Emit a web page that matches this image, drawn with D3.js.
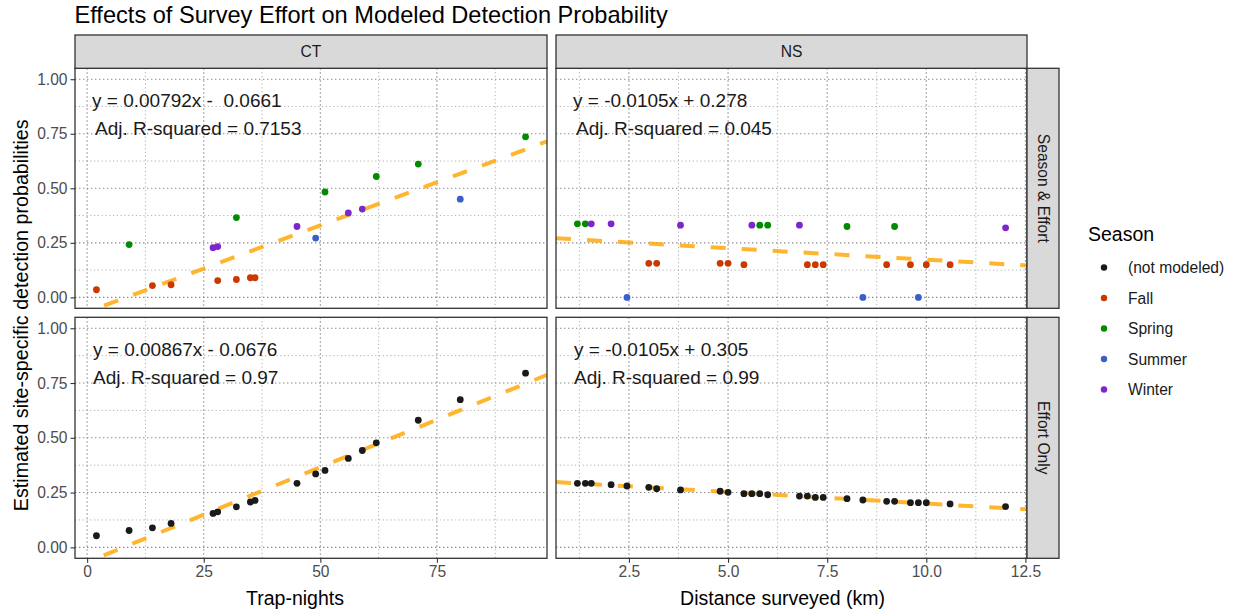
<!DOCTYPE html>
<html>
<head>
<meta charset="utf-8">
<script src="https://cdn.jsdelivr.net/npm/d3@7"></script>
<style>
  html, body { margin: 0; padding: 0; background: #fff; }
  svg { display: block; font-family: "Liberation Sans", Arial, sans-serif; }
</style>
</head>
<body>
<svg id="chart" width="1238" height="615"></svg>
<script>
// ---------------- DATA ----------------
const seasons = ["(not modeled)", "Fall", "Spring", "Summer", "Winter"];
const seasonColors = ["#1A1A1A", "#CD3700", "#008B00", "#3A5FCD", "#7D26CD"];

// CT, Season & Effort
const ctSeasonX = [2, 9, 14, 18, 27, 28, 28, 32, 32, 35, 36, 45, 49, 51, 56, 59, 62, 71, 80, 94];
const ctSeasonY = [0.035, 0.242, 0.054, 0.058, 0.228, 0.233, 0.077, 0.366, 0.082, 0.090, 0.090, 0.325, 0.272, 0.483, 0.387, 0.405, 0.554, 0.611, 0.450, 0.736];
const ctSeasonS = ["Fall", "Spring", "Fall", "Fall", "Winter", "Winter", "Fall", "Spring", "Fall", "Fall", "Fall", "Winter", "Summer", "Spring", "Winter", "Winter", "Spring", "Spring", "Summer", "Spring"];

// NS, Season & Effort
const nsSeasonX = [1.2, 1.4, 1.55, 2.05, 2.45, 3.0, 3.2, 3.8, 4.8, 5.0, 5.4, 5.6, 5.8, 6.0, 6.8, 7.0, 7.2, 7.4, 8.0, 8.4, 9.0, 9.2, 9.6, 9.8, 10.0, 10.6, 12.0];
const nsSeasonY = [0.337, 0.337, 0.337, 0.337, 0.0, 0.156, 0.156, 0.331, 0.156, 0.156, 0.150, 0.331, 0.331, 0.331, 0.331, 0.150, 0.150, 0.150, 0.325, 0.0, 0.150, 0.325, 0.150, 0.0, 0.150, 0.150, 0.319];
const nsSeasonS = ["Spring", "Spring", "Winter", "Winter", "Summer", "Fall", "Fall", "Winter", "Fall", "Fall", "Fall", "Winter", "Spring", "Spring", "Winter", "Fall", "Fall", "Fall", "Spring", "Summer", "Fall", "Spring", "Fall", "Summer", "Fall", "Fall", "Winter"];

// CT, Effort Only
const ctEffortX = [2, 9, 14, 18, 27, 28, 32, 35, 36, 45, 49, 51, 56, 59, 62, 71, 80, 94];
const ctEffortY = [0.053, 0.077, 0.089, 0.109, 0.155, 0.162, 0.185, 0.207, 0.214, 0.292, 0.335, 0.351, 0.406, 0.442, 0.477, 0.580, 0.674, 0.795];

// NS, Effort Only
const nsEffortX = [1.2, 1.4, 1.55, 2.05, 2.45, 3.0, 3.2, 3.8, 4.8, 5.0, 5.4, 5.6, 5.8, 6.0, 6.8, 7.0, 7.2, 7.4, 8.0, 8.4, 9.0, 9.2, 9.6, 9.8, 10.0, 10.6, 12.0];
const nsEffortY = [0.292, 0.292, 0.292, 0.286, 0.280, 0.274, 0.268, 0.262, 0.256, 0.251, 0.245, 0.245, 0.245, 0.240, 0.234, 0.234, 0.228, 0.228, 0.222, 0.216, 0.210, 0.210, 0.204, 0.204, 0.204, 0.198, 0.186];

// Fitted lines (order: CT/Season, NS/Season, CT/Effort, NS/Effort)
const fitSlope = [0.00792, -0.0105, 0.00867, -0.0105];
const fitIntercept = [-0.0661, 0.278, -0.0676, 0.305];
const fitEquation = ["y = 0.00792x -  0.0661", "y = -0.0105x + 0.278", "y = 0.00867x - 0.0676", "y = -0.0105x + 0.305"];
const fitR2Label = ["Adj. R-squared = 0.7153", "Adj. R-squared = 0.045", "Adj. R-squared = 0.97", "Adj. R-squared = 0.99"];

// Axes
const ctTicks = [0, 25, 50, 75];
const ctMinor = [12.5, 37.5, 62.5, 87.5];
const nsTicks = [2.5, 5.0, 7.5, 10.0, 12.5];
const nsMinor = [1.25, 3.75, 6.25, 8.75, 11.25];
const yTicks = [0, 0.25, 0.5, 0.75, 1.0];
const yMinor = [0.125, 0.375, 0.625, 0.875];
const colStrips = ["CT", "NS"];
const rowStrips = ["Season & Effort", "Effort Only"];
const xTitles = ["Trap-nights", "Distance surveyed (km)"];
const yTitle = "Estimated site-specific detection probabilities";
const chartTitle = "Effects of Survey Effort on Modeled Detection Probability";

// ---------------- LAYOUT ----------------
const svg = d3.select("#chart");
const color = d3.scaleOrdinal().domain(seasons).range(seasonColors);

const cols = [
  { x0: 75, x1: 547, domain: [-2.6, 98.6], ticks: ctTicks, minor: ctMinor, fmt: d3.format("d"), titleX: 295 },
  { x0: 556, x1: 1027, domain: [0.66, 12.54], ticks: nsTicks, minor: nsMinor, fmt: d3.format(".1f"), titleX: 782.5 }
];
const rows = [
  { y0: 68.3, y1: 308.3 },
  { y0: 317.3, y1: 558.3 }
];
const stripTop = 35;
const rightStripW = 32;

const panelData = [
  { r: 0, c: 0, xs: ctSeasonX, ys: ctSeasonY, ss: ctSeasonS },
  { r: 0, c: 1, xs: nsSeasonX, ys: nsSeasonY, ss: nsSeasonS },
  { r: 1, c: 0, xs: ctEffortX, ys: ctEffortY, ss: null },
  { r: 1, c: 1, xs: nsEffortX, ys: nsEffortY, ss: null }
];

const textCol = "#4D4D4D";
const borderCol = "#333333";

// Title
svg.append("text").attr("x", 74.5).attr("y", 23)
  .attr("font-size", 23.6).attr("fill", "#000").text(chartTitle);

const defs = svg.append("defs");

panelData.forEach((p, i) => {
  const col = cols[p.c], row = rows[p.r];
  const x = d3.scaleLinear().domain(col.domain).range([col.x0, col.x1]);
  const y = d3.scaleLinear().domain([-0.05, 1.05]).range([row.y1, row.y0]);
  const g = svg.append("g");

  const clipId = "clip" + i;
  defs.append("clipPath").attr("id", clipId).append("rect")
    .attr("x", col.x0).attr("y", row.y0).attr("width", col.x1 - col.x0).attr("height", row.y1 - row.y0);

  g.append("rect").attr("x", col.x0).attr("y", row.y0)
    .attr("width", col.x1 - col.x0).attr("height", row.y1 - row.y0).attr("fill", "#fff");

  const grid = g.append("g").attr("clip-path", `url(#${clipId})`);
  grid.selectAll(".vminor").data(col.minor).join("line")
    .attr("x1", d => x(d)).attr("x2", d => x(d)).attr("y1", row.y0).attr("y2", row.y1)
    .attr("stroke", "#a8a8a8").attr("stroke-width", 0.9).attr("stroke-dasharray", "1.2,2.6");
  grid.selectAll(".hminor").data(yMinor).join("line")
    .attr("y1", d => y(d)).attr("y2", d => y(d)).attr("x1", col.x0).attr("x2", col.x1)
    .attr("stroke", "#a8a8a8").attr("stroke-width", 0.9).attr("stroke-dasharray", "1.2,2.6");
  grid.selectAll(".vmajor").data(col.ticks).join("line")
    .attr("x1", d => x(d)).attr("x2", d => x(d)).attr("y1", row.y0).attr("y2", row.y1)
    .attr("stroke", "#8a8a8a").attr("stroke-width", 1.1).attr("stroke-dasharray", "1.4,2.6");
  grid.selectAll(".hmajor").data(yTicks).join("line")
    .attr("y1", d => y(d)).attr("y2", d => y(d)).attr("x1", col.x0).attr("x2", col.x1)
    .attr("stroke", "#8a8a8a").attr("stroke-width", 1.1).attr("stroke-dasharray", "1.4,2.6");

  // fit line
  const line = d3.line().x(d => x(d)).y(d => y(fitIntercept[i] + fitSlope[i] * d));
  g.append("g").attr("clip-path", `url(#${clipId})`)
    .append("path").datum(col.domain)
    .attr("d", line).attr("fill", "none")
    .attr("stroke", "#FFA500").attr("stroke-opacity", 0.82)
    .attr("stroke-width", 4).attr("stroke-dasharray", "15,16");

  // points
  const pts = p.xs.map((v, k) => ({ x: v, y: p.ys[k], s: p.ss ? p.ss[k] : "(not modeled)" }));
  g.append("g").attr("clip-path", `url(#${clipId})`)
    .selectAll("circle").data(pts).join("circle")
    .attr("cx", d => x(d.x)).attr("cy", d => y(d.y)).attr("r", 3.4)
    .attr("fill", d => color(d.s));

  // annotation text
  const lx1 = col.x0 + (p.r === 0 ? 17 : 18);
  const lx2 = col.x0 + (p.r === 0 ? 20 : 18);
  const ty = row.y0 + 39;
  g.append("text").attr("x", lx1).attr("y", ty).attr("font-size", 19)
    .attr("fill", "#1A1A1A").style("white-space", "pre").text(fitEquation[i]);
  g.append("text").attr("x", lx2).attr("y", ty + 27.5).attr("font-size", 19)
    .attr("fill", "#1A1A1A").style("white-space", "pre").text(fitR2Label[i]);

  // border
  g.append("rect").attr("x", col.x0).attr("y", row.y0)
    .attr("width", col.x1 - col.x0).attr("height", row.y1 - row.y0)
    .attr("fill", "none").attr("stroke", borderCol).attr("stroke-width", 1.3);

  if (p.c === 0) {
    const ya = g.append("g").attr("transform", `translate(${col.x0},0)`)
      .call(d3.axisLeft(y).tickValues(yTicks).tickFormat(d3.format(".2f")).tickSize(4.5).tickPadding(3));
    ya.select(".domain").remove();
    ya.selectAll(".tick line").attr("stroke", borderCol).attr("stroke-width", 1.1);
    ya.selectAll(".tick text").attr("fill", textCol).attr("font-size", 15.6)
      .attr("font-family", "Liberation Sans, Arial, sans-serif");
  }
  if (p.r === 1) {
    const xa = g.append("g").attr("transform", `translate(0,${row.y1})`)
      .call(d3.axisBottom(x).tickValues(col.ticks).tickFormat(col.fmt).tickSize(4.5).tickPadding(3));
    xa.select(".domain").remove();
    xa.selectAll(".tick line").attr("stroke", borderCol).attr("stroke-width", 1.1);
    xa.selectAll(".tick text").attr("fill", textCol).attr("font-size", 15.6)
      .attr("font-family", "Liberation Sans, Arial, sans-serif");
  }
});

// top strips + x titles
cols.forEach((col, c) => {
  svg.append("rect").attr("x", col.x0).attr("y", stripTop)
    .attr("width", col.x1 - col.x0).attr("height", rows[0].y0 - stripTop)
    .attr("fill", "#D9D9D9").attr("stroke", borderCol).attr("stroke-width", 1.3);
  svg.append("text").attr("x", (col.x0 + col.x1) / 2).attr("y", (stripTop + rows[0].y0) / 2)
    .attr("text-anchor", "middle").attr("dominant-baseline", "central")
    .attr("font-size", 15.6).attr("fill", "#1A1A1A").text(colStrips[c]);
  svg.append("text").attr("x", col.titleX).attr("y", 605)
    .attr("text-anchor", "middle").attr("font-size", 19.5).attr("fill", "#000").text(xTitles[c]);
});

// right strips
const rsx = cols[1].x1;
rows.forEach((row, r) => {
  svg.append("rect").attr("x", rsx).attr("y", row.y0)
    .attr("width", rightStripW).attr("height", row.y1 - row.y0)
    .attr("fill", "#D9D9D9").attr("stroke", borderCol).attr("stroke-width", 1.3);
  const cx = rsx + rightStripW / 2, cy = (row.y0 + row.y1) / 2;
  svg.append("text").attr("transform", `translate(${cx},${cy}) rotate(90)`)
    .attr("text-anchor", "middle").attr("dominant-baseline", "central")
    .attr("font-size", 15.6).attr("fill", "#1A1A1A").text(rowStrips[r]);
});

// y title
svg.append("text").attr("transform", `translate(28,${(rows[0].y0 + rows[1].y1) / 2 + 2}) rotate(-90)`)
  .attr("text-anchor", "middle").attr("font-size", 19.7).attr("fill", "#000").text(yTitle);

// legend
const lg = svg.append("g");
lg.append("text").attr("x", 1088).attr("y", 241).attr("font-size", 19.5).attr("fill", "#000").text("Season");
const legY = d3.scalePoint().domain(seasons).range([267.5, 389.5]);
lg.selectAll("circle").data(seasons).join("circle")
  .attr("cx", 1104).attr("cy", d => legY(d)).attr("r", 3.2).attr("fill", d => color(d));
lg.selectAll(".lt").data(seasons).join("text")
  .attr("x", 1128).attr("y", d => legY(d)).attr("dominant-baseline", "central")
  .attr("font-size", 15.6).attr("fill", "#1A1A1A").text(d => d);
</script>
</body>
</html>
